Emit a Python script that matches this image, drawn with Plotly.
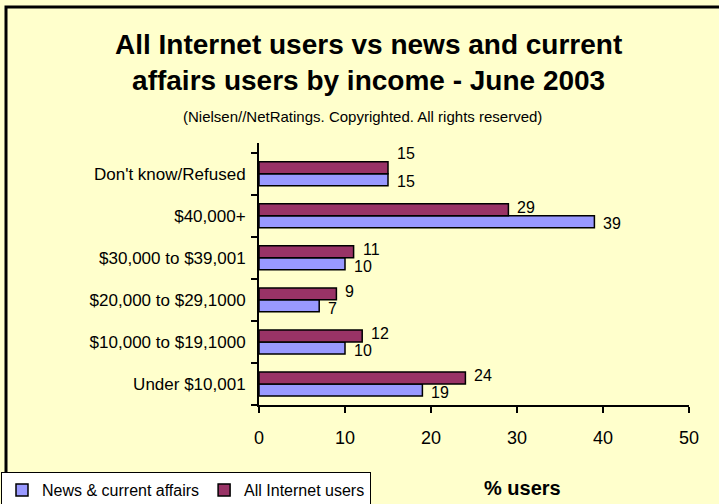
import plotly.graph_objects as go

# Income bands, listed bottom to top on the category axis
income_bands = [
    "Under $10,001",
    "$10,000 to $19,1000",
    "$20,000 to $29,1000",
    "$30,000 to $39,001",
    "$40,000+",
    "Don't know/Refused",
]
news_users = [19, 10, 7, 10, 39, 15]
all_users = [24, 12, 9, 11, 29, 15]
x_ticks = [0, 10, 20, 30, 40, 50]

FONT = "Liberation Sans, Arial, sans-serif"
BG = "#FFFFCC"
NEWS_COLOR = "#9999FF"
ALL_COLOR = "#993366"

W, H = 719, 504
ML, MR, MT, MB = 259, 30, 143, 99
PW, PH = W - ML - MR, H - MT - MB
BARGAP = 0.43

# One bar's thickness in pixels, used to place the value labels
band_px = PH / len(income_bands)
bar_px = band_px * (1 - BARGAP) / 2


def px_to_paper_x(px):
    return (px - ML) / PW


def px_to_paper_y(py):
    return (H - MB - py) / PH


fig = go.Figure()
fig.add_trace(go.Bar(
    y=income_bands, x=news_users, orientation="h",
    name="News & current affairs",
    marker=dict(color=NEWS_COLOR, line=dict(color="black", width=1.5)),
))
fig.add_trace(go.Bar(
    y=income_bands, x=all_users, orientation="h",
    name="All Internet users",
    marker=dict(color=ALL_COLOR, line=dict(color="black", width=1.5)),
))

# Value labels just past the end of each bar
label_font = dict(family=FONT, size=16, color="black")
for band, n_val, a_val in zip(income_bands, news_users, all_users):
    fig.add_annotation(
        x=n_val, y=band, xref="x", yref="y", text=str(n_val),
        xanchor="left", yanchor="middle", showarrow=False,
        xshift=7, yshift=-bar_px / 2 - 2, font=label_font,
    )
    # lift the upper label when both bars end at the same value
    lift = 12 if n_val == a_val else 0
    fig.add_annotation(
        x=a_val, y=band, xref="x", yref="y", text=str(a_val),
        xanchor="left", yanchor="middle", showarrow=False,
        xshift=7, yshift=bar_px / 2 + 2 + lift, font=label_font,
    )

fig.update_layout(
    width=W, height=H,
    margin=dict(l=ML, r=MR, t=MT, b=MB, autoexpand=False),
    paper_bgcolor=BG, plot_bgcolor=BG,
    font=dict(family=FONT, color="black"),
    barmode="group", bargap=BARGAP, bargroupgap=0,
    showlegend=True,
    legend=dict(
        orientation="h",
        x=px_to_paper_x(1), y=px_to_paper_y(472),
        xanchor="left", yanchor="top",
        bgcolor="white", bordercolor="black", borderwidth=1,
        font=dict(family=FONT, size=16, color="black"),
        itemwidth=30, tracegroupgap=0,
    ),
)

fig.update_xaxes(
    range=[0, 50], tickvals=x_ticks, ticktext=[str(v) for v in x_ticks],
    showgrid=False, zeroline=False,
    showline=True, linecolor="black", linewidth=2,
    ticks="outside", ticklen=6, tickwidth=2, tickcolor="black",
    ticklabelstandoff=9,
    tickfont=dict(family=FONT, size=18, color="black"),
)
fig.update_yaxes(
    categoryorder="array", categoryarray=income_bands,
    showgrid=False, zeroline=False,
    showline=True, linecolor="black", linewidth=2,
    ticks="outside", ticklen=6, tickwidth=2, tickcolor="black",
    tickson="boundaries", ticklabelstandoff=8,
    tickfont=dict(family=FONT, size=17, color="black"),
)

# Title, subtitle and axis title
fig.add_annotation(
    text="<b>All Internet users vs news and current<br>affairs users by income - June 2003</b>",
    xref="paper", yref="paper",
    x=px_to_paper_x(368), y=px_to_paper_y(63),
    xanchor="center", yanchor="middle", showarrow=False,
    font=dict(family=FONT, size=28, color="black"),
)
fig.add_annotation(
    text="(Nielsen//NetRatings. Copyrighted. All rights reserved)",
    xref="paper", yref="paper",
    x=px_to_paper_x(362), y=px_to_paper_y(117),
    xanchor="center", yanchor="middle", showarrow=False,
    font=dict(family=FONT, size=15, color="black"),
)
fig.add_annotation(
    text="<b>% users</b>",
    xref="paper", yref="paper",
    x=px_to_paper_x(522), y=px_to_paper_y(488),
    xanchor="center", yanchor="middle", showarrow=False,
    font=dict(family=FONT, size=20, color="black"),
)

# Chart frame (top and left edges sit inside the page)
fig.add_shape(
    type="rect", xref="paper", yref="paper",
    x0=px_to_paper_x(6), y0=px_to_paper_y(H + 20),
    x1=px_to_paper_x(W + 20), y1=px_to_paper_y(7),
    line=dict(color="black", width=3), fillcolor="rgba(0,0,0,0)",
    layer="below",
)

fig.write_html("out.html")
